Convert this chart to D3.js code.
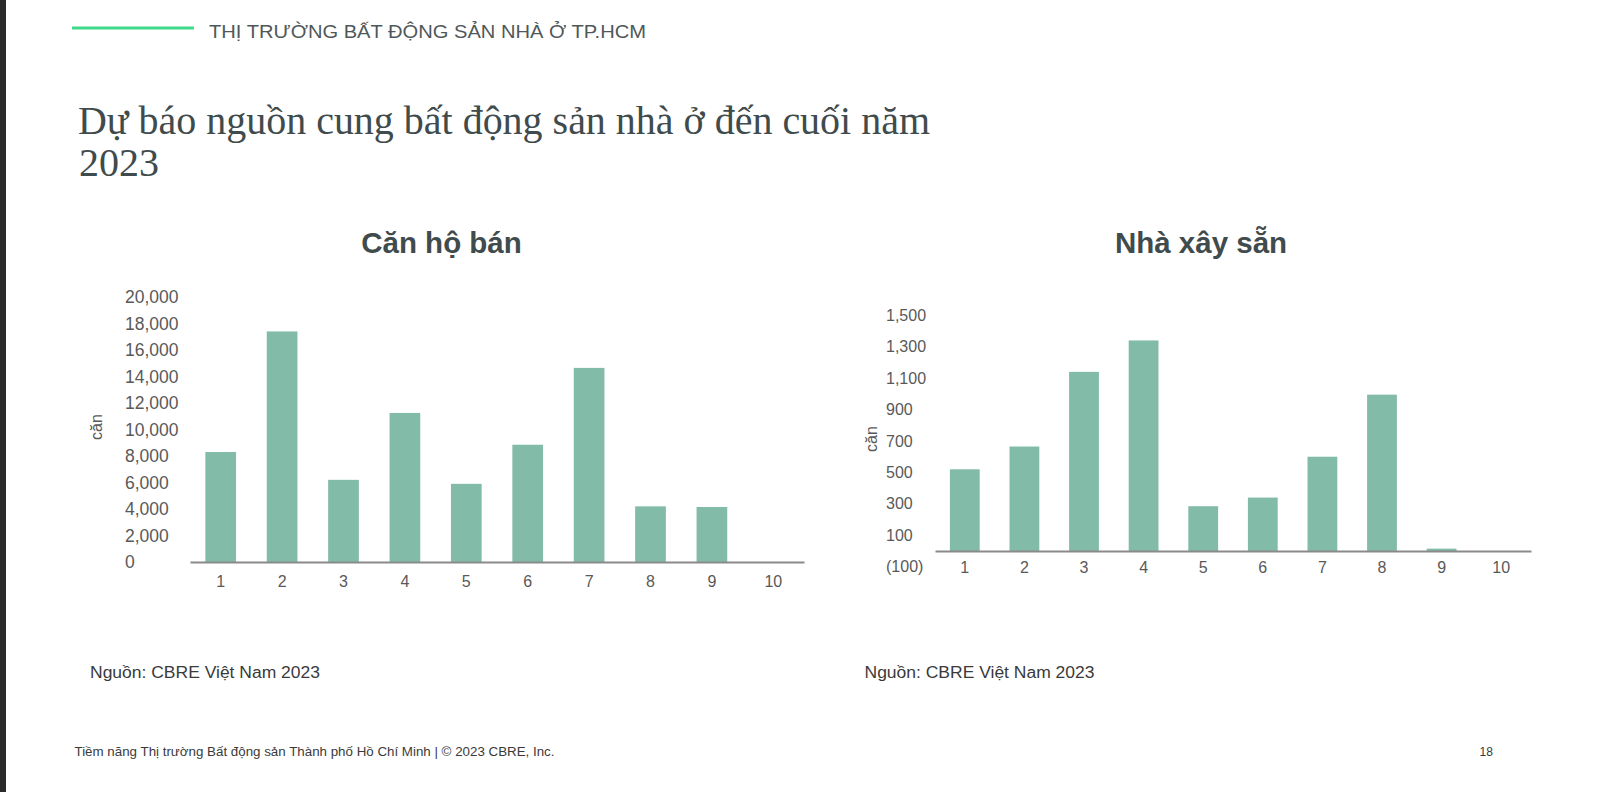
<!DOCTYPE html>
<html>
<head>
<meta charset="utf-8">
<script src="https://cdn.jsdelivr.net/npm/d3@7"></script>
<style>
  html, body { margin: 0; padding: 0; background: #ffffff; }
  svg { display: block; }
</style>
</head>
<body>
<svg id="chart" width="1602" height="792"></svg>
<script>
// ---------- DATA ----------
const categories = ["1", "2", "3", "4", "5", "6", "7", "8", "9", "10"];
const apartmentValues = [8300, 17400, 6200, 11250, 5900, 8850, 14650, 4200, 4150, 0];
const houseValues = [520, 665, 1140, 1340, 285, 340, 600, 995, 15, 0];
const apartmentTicks = [0, 2000, 4000, 6000, 8000, 10000, 12000, 14000, 16000, 18000, 20000];
const houseTicks = [-100, 100, 300, 500, 700, 900, 1100, 1300, 1500];
const chartTitles = ["Căn hộ bán", "Nhà xây sẵn"];
const axisTitle = "căn";
const sourceText = "Nguồn: CBRE Việt Nam 2023";
const headerText = "THỊ TRƯỜNG BẤT ĐỘNG SẢN NHÀ Ở TP.HCM";
const titleLines = ["Dự báo nguồn cung bất động sản nhà ở đến cuối năm", "2023"];
const footerText = "Tiềm năng Thị trường Bất động sản Thành phố Hồ Chí Minh | © 2023 CBRE, Inc.";
const pageNumber = "18";

// ---------- STYLE ----------
const barColor = "#83bba9";
const axisColor = "#8a8a8a";
const tickColor = "#595959";
const darkText = "#3f4b4c";
const sans = "'Liberation Sans', Arial, sans-serif";
const serif = "'Liberation Serif', 'Times New Roman', serif";

const svg = d3.select("#chart");

// left dark strip
svg.append("rect").attr("x", 0).attr("y", 0).attr("width", 6).attr("height", 792).attr("fill", "#2b2b2b");

// header
svg.append("line").attr("x1", 72).attr("x2", 194).attr("y1", 28).attr("y2", 28)
  .attr("stroke", "#3fd98a").attr("stroke-width", 3);
svg.append("text").attr("x", 209).attr("y", 37.5)
  .attr("font-family", sans).attr("font-size", 18).attr("fill", "#4f5859")
  .attr("textLength", 437).attr("lengthAdjust", "spacingAndGlyphs")
  .text(headerText);

// main title
svg.append("text").attr("x", 78).attr("y", 134)
  .attr("font-family", serif).attr("font-size", 40).attr("fill", darkText)
  .attr("textLength", 852).attr("lengthAdjust", "spacingAndGlyphs")
  .text(titleLines[0]);
svg.append("text").attr("x", 79).attr("y", 176)
  .attr("font-family", serif).attr("font-size", 40).attr("fill", darkText)
  .text(titleLines[1]);

// footer
svg.append("text").attr("x", 74.5).attr("y", 756)
  .attr("font-family", sans).attr("font-size", 12).attr("fill", "#3a3a3a")
  .attr("textLength", 480).attr("lengthAdjust", "spacingAndGlyphs")
  .text(footerText);
svg.append("text").attr("x", 1479.5).attr("y", 756)
  .attr("font-family", sans).attr("font-size", 12).attr("fill", "#3a3a3a")
  .text(pageNumber);

function drawChart(cfg) {
  const g = svg.append("g");
  const x = d3.scaleBand().domain(categories).range([cfg.x0, cfg.x1])
    .paddingInner(0.5).paddingOuter(0.25);
  const y = d3.scaleLinear().domain(cfg.domain).range(cfg.yRange);

  // title
  g.append("text").attr("x", cfg.titleX).attr("y", cfg.titleY)
    .attr("text-anchor", "middle").attr("font-family", sans).attr("font-weight", "bold")
    .attr("font-size", 29.5).attr("fill", darkText).text(cfg.title);

  // bars
  g.append("g").selectAll("rect").data(cfg.values).join("rect")
    .attr("x", (d, i) => x(categories[i]))
    .attr("width", x.bandwidth())
    .attr("y", d => y(Math.max(d, 0)))
    .attr("height", d => Math.abs(y(d) - y(0)))
    .attr("fill", barColor);

  // y axis (labels only, left aligned)
  const ya = g.append("g").attr("transform", `translate(${cfg.yLabelX},0)`)
    .call(d3.axisLeft(y).tickValues(cfg.ticks).tickSize(0).tickFormat(cfg.fmt));
  ya.select(".domain").remove();
  ya.selectAll("text").attr("x", 0).attr("text-anchor", "start")
    .attr("font-family", sans).attr("font-size", cfg.yFont).attr("fill", tickColor);

  // x axis
  const xa = g.append("g").attr("transform", `translate(0,${y(0)})`)
    .call(d3.axisBottom(x).tickSize(0).tickSizeOuter(0));
  xa.select(".domain").attr("stroke", axisColor).attr("stroke-width", 2);
  xa.selectAll("text").attr("y", cfg.xLabelOffset).attr("dy", "0.35em")
    .attr("font-family", sans).attr("font-size", 16).attr("fill", tickColor);

  // axis title
  g.append("text").attr("transform", `translate(${cfg.axisTitleX},${cfg.axisTitleY}) rotate(-90)`)
    .attr("text-anchor", "middle").attr("dy", "0.35em")
    .attr("font-family", sans).attr("font-size", 16).attr("fill", tickColor).text(axisTitle);

  // source
  g.append("text").attr("x", cfg.sourceX).attr("y", 678)
    .attr("font-family", sans).attr("font-size", 16).attr("fill", "#3a3a3a")
    .attr("textLength", 230).attr("lengthAdjust", "spacingAndGlyphs")
    .text(sourceText);
}

const fmtPlain = d3.format(",");
const fmtParen = d => d < 0 ? `(${fmtPlain(-d)})` : fmtPlain(d);

drawChart({
  values: apartmentValues, ticks: apartmentTicks, domain: [0, 20000],
  x0: 190, x1: 804, yRange: [562, 297], fmt: fmtPlain,
  yLabelX: 125, yFont: 17.5, xLabelOffset: 19.7,
  title: chartTitles[0], titleX: 441.5, titleY: 253,
  axisTitleX: 96, axisTitleY: 427, sourceX: 90
});

drawChart({
  values: houseValues, ticks: houseTicks, domain: [-100, 1500],
  x0: 935, x1: 1531, yRange: [566.7, 315.3], fmt: fmtParen,
  yLabelX: 886, yFont: 16, xLabelOffset: 16.7,
  title: chartTitles[1], titleX: 1201, titleY: 253,
  axisTitleX: 871.5, axisTitleY: 439, sourceX: 864.5
});
</script>
</body>
</html>
